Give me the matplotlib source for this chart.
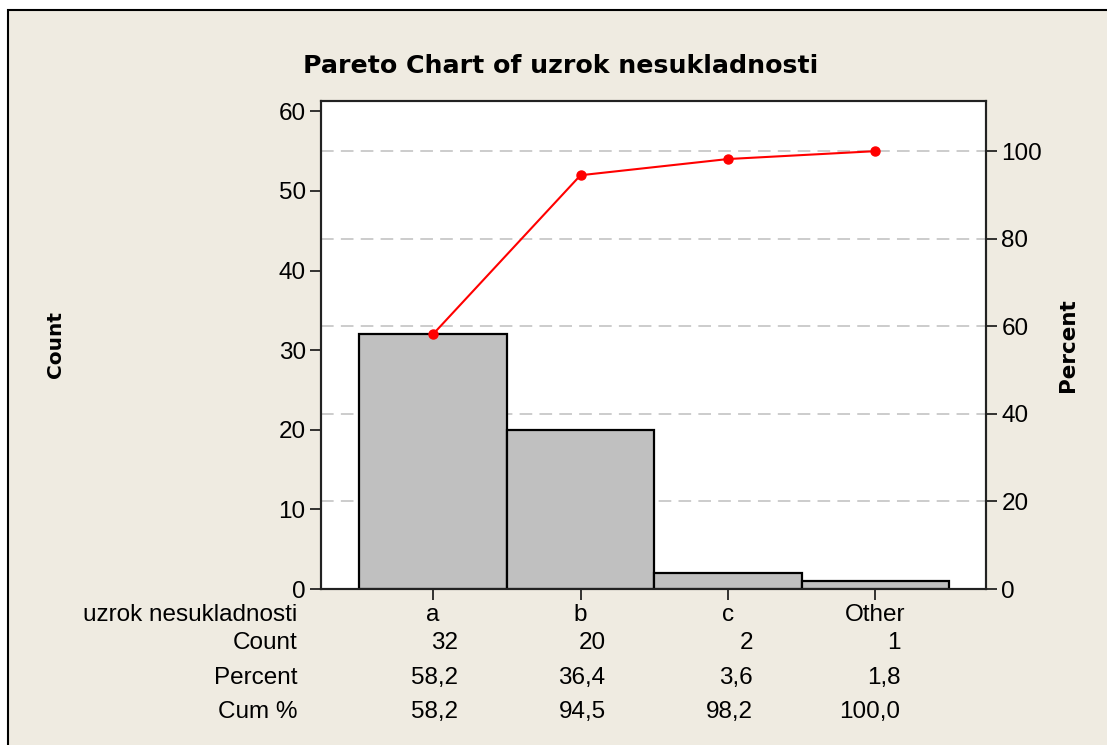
import matplotlib
matplotlib.use("Agg")
import matplotlib.pyplot as plt
from matplotlib.patches import Rectangle
from matplotlib import font_manager

categories = ["a", "b", "c", "Other"]
counts = [32, 20, 2, 1]
percents = [58.2, 36.4, 3.6, 1.8]
cum_percents = [58.2, 94.5, 98.2, 100.0]
row_labels = ["uzrok nesukladnosti", "Count", "Percent", "Cum %"]
title = "Pareto Chart of uzrok nesukladnosti"

names = {f.name for f in font_manager.fontManager.ttflist}
fam = ['Liberation Sans Narrow', 'Liberation Sans'] if 'Liberation Sans Narrow' in names else ['Liberation Sans']
plt.rcParams['font.family'] = fam + ['DejaVu Sans']
bold_fam = ['DejaVu Sans']

W, H = 1107, 745
fig = plt.figure(figsize=(W / 100, H / 100), dpi=100)
fig.patch.set_facecolor("white")

bg = "#efebe1"
fig.patches.append(Rectangle((8 / W, -0.1), 1.2, 1 - 10 / H + 0.1, transform=fig.transFigure,
                             facecolor=bg, edgecolor="black", linewidth=1.5, zorder=-10))


def fx(px):
    return px / W


def fy(py):
    return 1 - py / H


ax = fig.add_axes([fx(321), fy(589), fx(986) - fx(321), fy(101) - fy(589)])
ax.set_facecolor("white")
total = sum(counts)
ytop = 61.3
ax.set_ylim(0, ytop)
x = list(range(len(categories)))
ax.bar(x, counts, width=1.0, color="#c0c0c0", edgecolor="black", linewidth=1.6, zorder=3)
ax.set_xlim(-0.76, 3.75)

ax2 = ax.twinx()
ax2.set_ylim(0, ytop / total * 100)
for g in [20, 40, 60, 80, 100]:
    ax.axhline(g * total / 100, color="#c8c8c8", linestyle=(0, (7, 4)), linewidth=1.3, zorder=1)
ax2.plot(x, cum_percents, color="#ff0000", linewidth=1.5, marker="o", markersize=6.5, zorder=5)

ax.set_yticks([0, 10, 20, 30, 40, 50, 60])
ax2.set_yticks([0, 20, 40, 60, 80, 100])
ax.set_xticks(x)
ax.set_xticklabels([])
fs = 17.5
for a in (ax, ax2):
    a.tick_params(axis="both", direction="out", length=8, width=1.1, labelsize=fs, colors="black", pad=3)
    for s in a.spines.values():
        s.set_linewidth(1.5)
        s.set_color("#222222")

fig.text(fx(55), fy(345), "Count", rotation=90, fontsize=14.5, fontweight="bold",
         family=bold_fam, ha="center", va="center")
fig.text(fx(1068), fy(345), "Percent", rotation=90, fontsize=15.5, fontweight="bold",
         family=bold_fam, ha="center", va="center")

fig.text(fx(561), fy(66), title, fontsize=18.2, fontweight="bold", family=bold_fam,
         ha="center", va="center")

row_y = [615, 643, 678, 712]
for lbl, yy in zip(row_labels, row_y):
    fig.text(fx(297), fy(yy), lbl, fontsize=fs, ha="right", va="center")

trans = ax.get_xaxis_transform()
for i, cat in enumerate(categories):
    ax.annotate(cat, xy=(i, 0), xycoords=trans, xytext=(0, -(row_y[0] - 589)), textcoords="offset pixels",
                fontsize=fs, ha="center", va="center")
    rows = [str(counts[i]),
            f"{percents[i]:.1f}".replace(".", ","),
            f"{cum_percents[i]:.1f}".replace(".", ",")]
    for txt, yy in zip(rows, row_y[1:]):
        ax.annotate(txt, xy=(i + 0.17, 0), xycoords=trans, xytext=(0, -(yy - 589)),
                    textcoords="offset pixels", fontsize=fs, ha="right", va="center")

fig.savefig("out.png", dpi=100, facecolor=fig.get_facecolor())
